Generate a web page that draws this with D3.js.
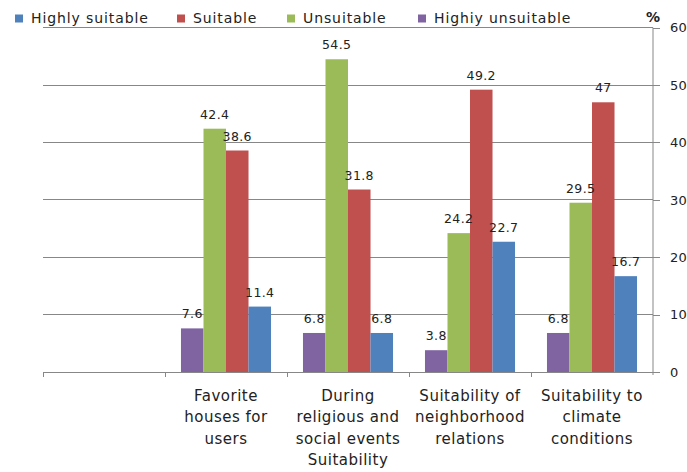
<!DOCTYPE html>
<html><head><meta charset="utf-8">
<script src="https://cdn.jsdelivr.net/npm/d3@7"></script>
<style>
body{margin:0;background:#fff;}
svg{display:block;font-family:"DejaVu Sans",Verdana,sans-serif;}
</style></head>
<body>
<svg id="chart" width="687" height="472"></svg>
<script>
// Data
const categories = ["", "Favorite houses for users", "During religious and social events Suitability", "Suitability of neighborhood relations", "Suitability to climate conditions"];
const categoryLines = [[], ["Favorite","houses for","users"], ["During","religious and","social events","Suitability"], ["Suitability of","neighborhood","relations"], ["Suitability to","climate","conditions"]];
const seriesDrawOrder = ["Highiy unsuitable", "Unsuitable", "Suitable", "Highly suitable"];
const legendOrder = ["Highly suitable", "Suitable", "Unsuitable", "Highiy unsuitable"];
const highlyUnsuitable = [null, 7.6, 6.8, 3.8, 6.8];
const unsuitable = [null, 42.4, 54.5, 24.2, 29.5];
const suitable = [null, 38.6, 31.8, 49.2, 47];
const highlySuitable = [null, 11.4, 6.8, 22.7, 16.7];
const yTicks = [0, 10, 20, 30, 40, 50, 60];
const colors = {"Highly suitable":"#4F81BD","Suitable":"#C0504D","Unsuitable":"#9BBB59","Highiy unsuitable":"#8064A2"};
const valuesBySeries = {"Highiy unsuitable":highlyUnsuitable,"Unsuitable":unsuitable,"Suitable":suitable,"Highly suitable":highlySuitable};

const svg = d3.select("#chart");
const mLeft = 43, mRight = 653, mTop = 27.7, mBottom = 372;

const x0 = d3.scaleBand().domain(categories).range([mLeft, mRight]).padding(0);
const x1 = d3.scaleBand().domain(seriesDrawOrder).range([0, x0.bandwidth()]).paddingInner(0).paddingOuter(0.71);
const y = d3.scaleLinear().domain([0, 60]).range([mBottom, mTop]);

const gridColor = "#878787";

// gridlines
svg.append("g").selectAll("line").data(yTicks.filter(d => d > 0)).join("line")
  .attr("x1", mLeft).attr("x2", mRight)
  .attr("y1", d => y(d)).attr("y2", d => y(d))
  .attr("stroke", gridColor).attr("stroke-width", 1).attr("shape-rendering","crispEdges");

// right axis
const yAxis = d3.axisRight(y).tickValues(yTicks).tickSize(7).tickPadding(10).tickSizeOuter(0);
const ya = svg.append("g").attr("transform", `translate(${mRight},0)`).call(yAxis);
ya.select(".domain").attr("stroke", gridColor).attr("d", `M0,${mTop}V${mBottom+3}`);
ya.selectAll(".tick line").attr("stroke", gridColor).attr("shape-rendering","crispEdges");
ya.selectAll(".tick text").attr("font-size", 13).attr("fill", "#222").attr("font-family","DejaVu Sans, sans-serif").attr("letter-spacing", "0.3px");

// bottom axis
const xAxisG = svg.append("g");
xAxisG.append("line").attr("x1", mLeft).attr("x2", mRight).attr("y1", mBottom).attr("y2", mBottom)
  .attr("stroke", gridColor).attr("shape-rendering","crispEdges");
const boundaries = categories.map(c => x0(c));
xAxisG.selectAll("line.tk").data(boundaries).join("line").attr("class","tk")
  .attr("x1", d => d).attr("x2", d => d).attr("y1", mBottom).attr("y2", mBottom + 5)
  .attr("stroke", gridColor).attr("shape-rendering","crispEdges");

// category labels
categories.forEach((c, i) => {
  const t = svg.append("text").attr("text-anchor","middle").attr("font-size", 15)
    .attr("letter-spacing","0.5px").attr("fill","#222");
  categoryLines[i].forEach((line, j) => {
    t.append("tspan").attr("x", x0(c) + x0.bandwidth()/2).attr("y", 401 + j*21.4).text(line);
  });
});

// bars
const barG = svg.append("g");
seriesDrawOrder.forEach(s => {
  const vals = valuesBySeries[s];
  barG.selectAll(null).data(categories.map((c,i)=>({c, v: vals[i]})).filter(d => d.v != null)).join("rect")
    .attr("x", d => x0(d.c) + x1(s))
    .attr("width", x1.bandwidth())
    .attr("y", d => y(d.v))
    .attr("height", d => y(0) - y(d.v))
    .attr("fill", colors[s]);
});
// labels
seriesDrawOrder.forEach(s => {
  const vals = valuesBySeries[s];
  svg.append("g").selectAll("text").data(categories.map((c,i)=>({c, v: vals[i]})).filter(d => d.v != null)).join("text")
    .attr("x", d => x0(d.c) + x1(s) + x1.bandwidth()/2)
    .attr("y", d => y(d.v) - 10)
    .attr("text-anchor","middle").attr("font-size", 12.5).attr("letter-spacing","0.4px").attr("fill","#222")
    .text(d => d.v);
});

// legend
const legendX = [15, 177, 287, 418];
const lg = svg.append("g");
legendOrder.forEach((s, i) => {
  lg.append("rect").attr("x", legendX[i]).attr("y", 14.5).attr("width", 8).attr("height", 8).attr("fill", colors[s]);
  lg.append("text").attr("x", legendX[i] + 16).attr("y", 23).attr("font-size", 14).attr("letter-spacing","0.9px")
    .attr("fill","#222").text(s);
});

// % label
svg.append("text").attr("x", mRight).attr("y", 22).attr("text-anchor","middle")
  .attr("font-size", 14).attr("font-weight","bold").attr("fill","#222").text("%");
</script>
</body></html>
